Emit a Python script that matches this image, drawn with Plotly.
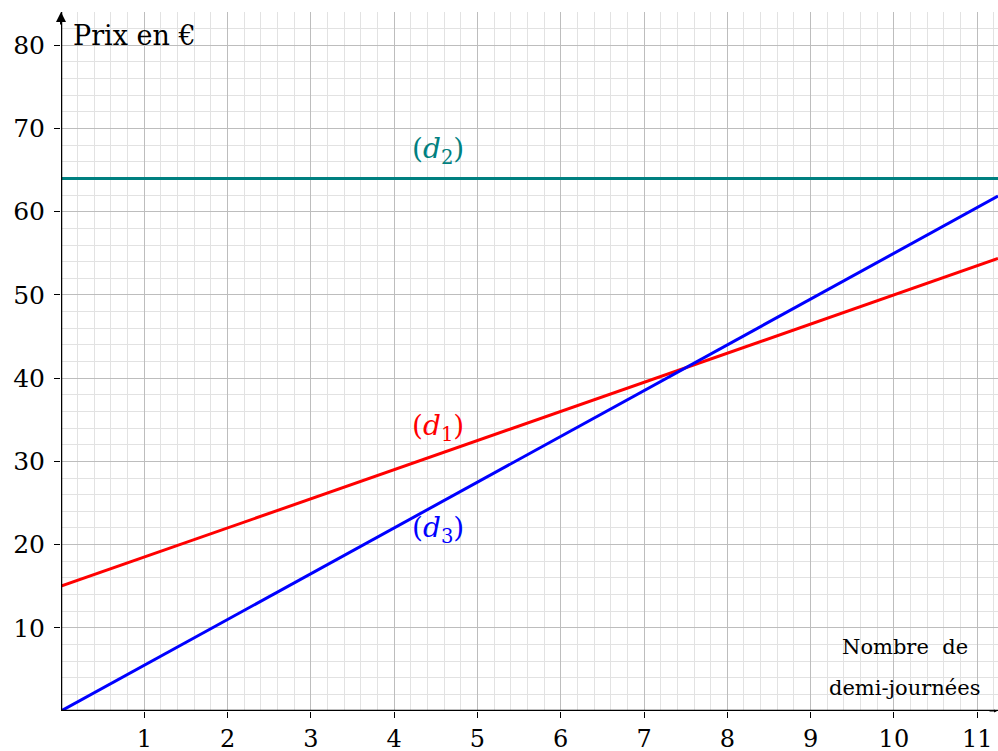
import plotly.graph_objects as go

# Data
x_ends = [0, 11.25]
d1_vals = [15, 54.375]
d2_vals = [64, 64]
d3_vals = [0, 61.875]
x_ticks = [1, 2, 3, 4, 5, 6, 7, 8, 9, 10, 11]
y_ticks = [10, 20, 30, 40, 50, 60, 70, 80]

FONT = "DejaVu Serif"

fig = go.Figure()
fig.add_trace(go.Scatter(x=x_ends, y=d1_vals, mode="lines", line=dict(color="#ff0000", width=3), hoverinfo="skip"))
fig.add_trace(go.Scatter(x=x_ends, y=d2_vals, mode="lines", line=dict(color="#008080", width=3), hoverinfo="skip"))
fig.add_trace(go.Scatter(x=x_ends, y=d3_vals, mode="lines", line=dict(color="#0000ff", width=3), hoverinfo="skip"))

fig.update_layout(
    width=998, height=751,
    margin=dict(l=61, r=0, t=12, b=40, autoexpand=False),
    plot_bgcolor="white", paper_bgcolor="white",
    showlegend=False,
    font=dict(family=FONT, color="black", size=25),
)
fig.update_xaxes(
    range=[0, 11.25], tickvals=x_ticks, ticktext=[str(v) for v in x_ticks],
    showgrid=True, gridcolor="#bdbdbd", gridwidth=1,
    minor=dict(dtick=0.2, tick0=0, showgrid=True, gridcolor="#e2e2e2", gridwidth=1),
    showline=False, zeroline=False,
    ticks="outside", ticklen=6, tickcolor="black", tickwidth=1,
    tickfont=dict(family=FONT, size=24), ticklabelstandoff=0,
)
fig.update_yaxes(
    range=[0, 84], tickvals=y_ticks, ticktext=[str(v) for v in y_ticks],
    showgrid=True, gridcolor="#bdbdbd", gridwidth=1,
    minor=dict(dtick=2, tick0=0, showgrid=True, gridcolor="#e2e2e2", gridwidth=1),
    showline=False, zeroline=False,
    ticks="outside", ticklen=6, tickcolor="black", tickwidth=1,
    tickfont=dict(family=FONT, size=25), ticklabelstandoff=4,
)

# axis lines
fig.add_shape(type="line", xref="paper", yref="y", x0=0, x1=1, y0=0, y1=0, line=dict(color="black", width=2.5))
fig.add_shape(type="line", xref="x", yref="paper", x0=0, x1=0, y0=0, y1=1, line=dict(color="black", width=2.5))

# arrows
fig.add_annotation(x=0, y=1, xref="x", yref="paper", ax=0, ay=14, axref="pixel", ayref="pixel",
                   showarrow=True, arrowhead=2, arrowsize=1, arrowwidth=2, arrowcolor="black", text="")
fig.add_annotation(x=1, y=0, xref="paper", yref="y", ax=-10, ay=0,
                   showarrow=True, arrowhead=2, arrowsize=0.6, arrowwidth=1, arrowcolor="black", text="")

fig.add_annotation(x=0.12, y=81.2, xref="x", yref="y", text="Prix en €", showarrow=False,
                   xanchor="left", yanchor="middle", font=dict(family=FONT, size=27, color="black"))
fig.add_annotation(x=4.53, y=67.4, text="(<i>d</i><sub>2</sub>)", showarrow=False,
                   font=dict(family=FONT, size=28, color="#008080"))
fig.add_annotation(x=4.53, y=34.1, text="(<i>d</i><sub>1</sub>)", showarrow=False,
                   font=dict(family=FONT, size=28, color="#ff0000"))
fig.add_annotation(x=4.53, y=21.8, text="(<i>d</i><sub>3</sub>)", showarrow=False,
                   font=dict(family=FONT, size=28, color="#0000ff"))
fig.add_annotation(x=10.13, y=7.7, text="Nombre  de", showarrow=False,
                   font=dict(family=FONT, size=21, color="black"))
fig.add_annotation(x=10.13, y=2.8, text="demi-journées", showarrow=False,
                   font=dict(family=FONT, size=21, color="black"))

fig.write_html("out.html", config={"displayModeBar": False},
               post_script="document.body.style.margin='0px';document.body.style.padding='0px';")
